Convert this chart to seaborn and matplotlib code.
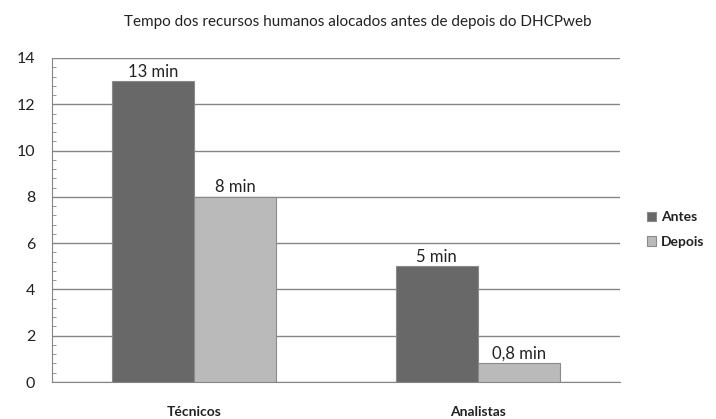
import matplotlib.pyplot as plt
import pandas as pd
import seaborn as sns
from matplotlib.ticker import MultipleLocator

# dados
categorias = ['Técnicos', 'Analistas']
antes = [13, 5]
depois = [8, 0.8]
rotulos_antes = ['13 min', '5 min']
rotulos_depois = ['8 min', '0,8 min']

sns.set_style('white')
plt.rcParams['font.family'] = ['Lato', 'DejaVu Sans']

df = pd.DataFrame({
    'categoria': categorias * 2,
    'valor': antes + depois,
    'periodo': ['Antes'] * len(antes) + ['Depois'] * len(depois),
})

fig = plt.figure(figsize=(7.16, 4.19), dpi=100)
ax = fig.add_axes([0.0726, 0.0883, 0.7934, 0.7733])

sns.barplot(data=df, x='categoria', y='valor', hue='periodo',
            palette={'Antes': '#686868', 'Depois': '#bababa'},
            width=0.58, gap=0, edgecolor='#8a8a8a', linewidth=0.8,
            ax=ax, zorder=3)

for cont, labs in zip(ax.containers, [rotulos_antes, rotulos_depois]):
    ax.bar_label(cont, labels=labs, padding=1, fontsize=12, color='#222222')

ax.set_xlim(-0.5, 1.5)
ax.set_ylim(0, 14)
ax.yaxis.set_major_locator(MultipleLocator(2))
ax.yaxis.set_minor_locator(MultipleLocator(0.4))
ax.grid(axis='y', which='major', color='#858585', linewidth=1, zorder=0)
ax.set_axisbelow(True)

for s in ['top', 'right']:
    ax.spines[s].set_visible(False)
for s in ['left', 'bottom']:
    ax.spines[s].set_color('#858585')

ax.tick_params(axis='y', which='major', length=5, color='#858585', labelsize=11.5,
               labelcolor='#222222', direction='out', pad=7)
ax.tick_params(axis='y', which='minor', length=3, color='#858585', direction='in', left=True)
ax.tick_params(axis='x', length=0, pad=17)
ax.set_xticks([0, 1])
ax.set_xticklabels(categorias, fontsize=10, fontweight='bold', color='#222222')
ax.set_xlabel('')
ax.set_ylabel('')

# marcas separando as categorias no eixo x
ax.set_xticks([-0.5, 0.5, 1.5], minor=True)
ax.tick_params(axis='x', which='minor', length=5, color='#858585', direction='out')

leg = ax.legend(loc='center left', bbox_to_anchor=(1.025, 0.47), frameon=False,
                fontsize=10, handlelength=0.7, handleheight=0.7,
                handletextpad=0.3, labelspacing=0.9)
for t in leg.get_texts():
    t.set_fontweight('bold')
    t.set_color('#222222')

fig.suptitle('Tempo dos recursos humanos alocados antes de depois do DHCPweb',
             x=0.5, y=0.965, fontsize=11, color='#222222')

fig.savefig('out.png', dpi=100)
